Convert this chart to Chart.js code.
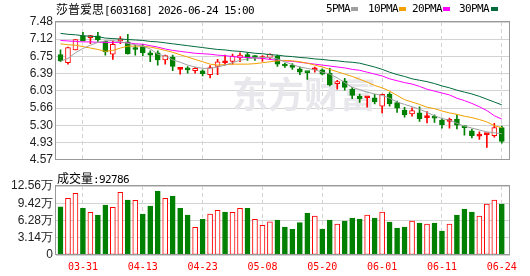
<!DOCTYPE html>
<html>
<head>
<meta charset="utf-8">
<script src="https://cdn.jsdelivr.net/npm/chart.js@4.4.1/dist/chart.umd.min.js"></script>
<style>
  html, body { margin: 0; padding: 0; background: #fff; }
  #wrap { position: relative; width: 530px; height: 276px; overflow: hidden; }
  #priceBox { position: absolute; left: 0; top: 0; width: 530px; height: 170px; }
  #volBox { position: absolute; left: 0; top: 170px; width: 530px; height: 106px; }
  .txt { position: absolute; font-family: "Noto Sans CJK SC", sans-serif; font-size: 12px; line-height: 13px; color: #000; white-space: nowrap; }
  .mono { font-family: "DejaVu Sans Mono", monospace; font-size: 11px; letter-spacing: -0.62px; }
  .sw { position: absolute; width: 7px; height: 4px; top: 7px; }
</style>
</head>
<body>
<div id="wrap">
  <div id="priceBox"><canvas id="price" width="530" height="170"></canvas></div>
  <div id="volBox"><canvas id="vol" width="530" height="106"></canvas></div>

  <div class="txt" style="left:56px;top:2px"><span>莎普爱思</span><span class="mono">[603168] 2026-06-24 15:00</span></div>

  <div class="txt mono" style="left:326px;top:2px">5PMA</div>
  <div class="sw" style="left:351px;background:#a0a0a0"></div>
  <div class="txt mono" style="left:368px;top:2px">10PMA</div>
  <div class="sw" style="left:399px;background:#f2a100"></div>
  <div class="txt mono" style="left:412px;top:2px">20PMA</div>
  <div class="sw" style="left:443px;background:#ff00ff"></div>
  <div class="txt mono" style="left:459px;top:2px">30PMA</div>
  <div class="sw" style="left:491px;background:#006b3c"></div>

  <div class="txt" style="left:57px;top:171px"><span>成交量</span><span class="mono">:92786</span></div>
</div>

<script>
/* =========================
   Data
========================= */
const opens  = [6.79, 6.62, 6.89, 7.19, 7.15, 7.19, 7.07, 6.80, 7.08, 7.06,
                6.94, 6.96, 6.83, 6.83, 6.68, 6.74, 6.48, 6.48, 6.45, 6.45,
                6.37, 6.54, 6.62, 6.65, 6.72, 6.79, 6.74, 6.71, 6.73, 6.76,
                6.57, 6.57, 6.49, 6.42, 6.47, 6.47, 6.40, 6.18, 6.23, 6.06,
                5.91, 5.88, 5.88, 5.70, 5.96, 5.78, 5.62, 5.54, 5.56, 5.46,
                5.46, 5.41, 5.38, 5.43, 5.27, 5.18, 5.07, 5.10, 5.08, 5.25];
const highs  = [6.89, 6.95, 7.11, 7.26, 7.20, 7.26, 7.08, 7.07, 7.17, 7.22,
                6.99, 7.01, 6.87, 6.87, 6.78, 6.78, 6.50, 6.54, 6.52, 6.47,
                6.56, 6.69, 6.78, 6.80, 6.83, 6.83, 6.77, 6.77, 6.81, 6.78,
                6.61, 6.60, 6.53, 6.42, 6.53, 6.49, 6.50, 6.25, 6.29, 6.10,
                5.96, 5.90, 5.95, 5.96, 5.99, 5.81, 5.68, 5.67, 5.69, 5.59,
                5.52, 5.45, 5.45, 5.52, 5.28, 5.22, 5.16, 5.12, 5.34, 5.28];
const lows   = [6.64, 6.59, 6.89, 7.08, 7.02, 7.07, 6.78, 6.69, 7.02, 6.80,
                6.78, 6.77, 6.64, 6.57, 6.59, 6.45, 6.38, 6.40, 6.40, 6.34,
                6.30, 6.37, 6.57, 6.59, 6.64, 6.67, 6.67, 6.65, 6.70, 6.54,
                6.52, 6.48, 6.37, 6.27, 6.42, 6.36, 6.13, 6.06, 6.04, 5.86,
                5.78, 5.68, 5.75, 5.56, 5.70, 5.57, 5.47, 5.49, 5.38, 5.35,
                5.36, 5.24, 5.24, 5.22, 5.09, 5.03, 5.00, 4.83, 5.05, 4.92];
const closes = [6.66, 6.94, 7.11, 7.08, 7.19, 7.10, 6.85, 7.01, 7.12, 6.81,
                6.90, 6.83, 6.78, 6.68, 6.77, 6.54, 6.49, 6.47, 6.50, 6.39,
                6.52, 6.64, 6.64, 6.76, 6.78, 6.72, 6.73, 6.73, 6.80, 6.59,
                6.55, 6.52, 6.42, 6.41, 6.48, 6.38, 6.15, 6.21, 6.10, 5.93,
                5.86, 5.89, 5.79, 5.95, 5.75, 5.66, 5.52, 5.61, 5.44, 5.47,
                5.45, 5.31, 5.39, 5.30, 5.25, 5.08, 5.08, 5.12, 5.25, 4.96];

const ma5  = [6.65, 6.71, 6.83, 6.92, 6.99, 7.05, 7.08, 7.09, 7.06, 7.03,
              7.00, 6.97, 6.91, 6.80, 6.76, 6.68, 6.63, 6.57, 6.53, 6.50,
              6.50, 6.53, 6.57, 6.62, 6.67, 6.70, 6.72, 6.73, 6.73, 6.70,
              6.64, 6.58, 6.53, 6.50, 6.47, 6.42, 6.38, 6.30, 6.20, 6.10,
              6.05, 6.00, 5.96, 5.93, 5.87, 5.79, 5.74, 5.69, 5.64, 5.57,
              5.50, 5.44, 5.41, 5.34, 5.28, 5.24, 5.20, 5.16, 5.14, 5.12];
const ma10 = [7.02, 7.00, 6.99, 6.96, 6.93, 6.90, 6.86, 6.88, 6.93, 6.97,
              6.97, 6.97, 6.95, 6.92, 6.88, 6.84, 6.79, 6.74, 6.69, 6.64,
              6.59, 6.57, 6.58, 6.59, 6.59, 6.59, 6.60, 6.62, 6.64, 6.66,
              6.67, 6.66, 6.64, 6.61, 6.57, 6.53, 6.48, 6.43, 6.38, 6.33,
              6.27, 6.21, 6.14, 6.09, 6.02, 5.93, 5.84, 5.79, 5.74, 5.68,
              5.65, 5.60, 5.56, 5.53, 5.49, 5.46, 5.42, 5.37, 5.29, 5.25];
const ma20 = [7.09, 7.08, 7.07, 7.06, 7.06, 7.05, 7.05, 7.05, 7.05, 7.04,
              7.02, 7.01, 6.98, 6.95, 6.91, 6.88, 6.86, 6.84, 6.82, 6.81,
              6.80, 6.78, 6.77, 6.75, 6.74, 6.73, 6.72, 6.71, 6.69, 6.67,
              6.66, 6.65, 6.63, 6.61, 6.59, 6.57, 6.55, 6.53, 6.51, 6.48,
              6.46, 6.42, 6.38, 6.34, 6.28, 6.24, 6.20, 6.17, 6.12, 6.06,
              6.02, 5.98, 5.94, 5.87, 5.82, 5.76, 5.69, 5.61, 5.50, 5.43];
const ma30 = [7.24, 7.22, 7.21, 7.19, 7.18, 7.17, 7.14, 7.13, 7.12, 7.11,
              7.10, 7.09, 7.07, 7.06, 7.04, 7.02, 7.00, 6.98, 6.96, 6.94,
              6.92, 6.90, 6.89, 6.87, 6.86, 6.84, 6.82, 6.81, 6.79, 6.78,
              6.76, 6.75, 6.73, 6.72, 6.70, 6.69, 6.67, 6.66, 6.64, 6.63,
              6.61, 6.57, 6.53, 6.48, 6.42, 6.37, 6.33, 6.28, 6.25, 6.22,
              6.18, 6.13, 6.09, 6.04, 6.00, 5.96, 5.91, 5.85, 5.79, 5.73];

const volumes = [87900, 103200, 112300, 85000, 77700, 72800, 91000, 86800, 114100, 100100,
                 99500, 74600, 89200, 116500, 103200, 107400, 85000, 72800, 50400, 65000,
                 74600, 81300, 78300, 77700, 85000, 85000, 65000, 54000, 60600, 63700,
                 51000, 46700, 58800, 76400, 71000, 47300, 63700, 56400, 61900, 67300,
                 65500, 72800, 67300, 78300, 60100, 49100, 51000, 61900, 58200, 56400,
                 58200, 43700, 56400, 72800, 83700, 78300, 71000, 92800, 100100, 92786];
// 1 = red (up vs previous close), 0 = green
const volUp = [0, 1, 1, 0, 1, 0, 0, 1, 1, 0,
               1, 0, 0, 0, 1, 0, 0, 0, 1, 0,
               1, 1, 0, 1, 1, 0, 1, 1, 1, 0,
               0, 0, 0, 0, 1, 0, 0, 1, 0, 0,
               0, 1, 0, 1, 0, 0, 0, 1, 0, 1,
               0, 0, 1, 0, 0, 0, 1, 1, 1, 0];

const tickIndex  = [3, 11, 19, 27, 35, 43, 51, 59];
const tickLabels = ["03-31", "04-13", "04-23", "05-08", "05-20", "06-01", "06-11", "06-24"];
const priceTicks = [4.57, 4.93, 5.30, 5.66, 6.03, 6.39, 6.75, 7.12, 7.48];
const volTicks   = [0, 31400, 62800, 94200, 125600];

/* =========================
   Helpers
========================= */
const RED = "#ff0000";
const GREEN = "#008000";
const GRID = "#d3d3d3";

const isUp = i => closes[i] >= opens[i];
const pts = arr => arr.map((v, i) => ({ x: i, y: v }));

const frame = {
  id: "frame",
  afterDraw(chart) {
    const { left, top, right, bottom } = chart.chartArea;
    const c = chart.ctx;
    c.save();
    c.strokeStyle = "#999";
    c.lineWidth = 1;
    c.strokeRect(Math.round(left) - 0.5, Math.round(top) - 0.5,
                 Math.round(right) - Math.round(left), Math.round(bottom) - Math.round(top));
    c.restore();
  }
};

const watermark = {
  id: "watermark",
  beforeDatasetsDraw(chart) {
    const c = chart.ctx;
    c.save();
    c.font = 'bold 36px "Noto Sans CJK SC"';
    c.fillStyle = "#e8e8ec";
    c.textBaseline = "alphabetic";
    c.fillText("东方财富", 232, 108);
    c.restore();
  }
};

const xBase = {
  type: "linear",
  min: -0.6,
  max: 60.095,
  offset: false,
  afterBuildTicks: s => { s.ticks = tickIndex.map(v => ({ value: v })); },
  grid: { color: GRID, drawTicks: false, offset: false },
  border: { display: false, dash: [4, 3] }
};

/* =========================
   Price chart
========================= */
new Chart(document.getElementById("price"), {
  type: "bar",
  data: {
    datasets: [
      { type: "line", data: pts(ma5),  borderColor: "#a0a0a0", borderWidth: 1, pointRadius: 0, tension: 0, order: 1 },
      { type: "line", data: pts(ma10), borderColor: "#f2a100", borderWidth: 1, pointRadius: 0, tension: 0, order: 1 },
      { type: "line", data: pts(ma20), borderColor: "#ff00ff", borderWidth: 1, pointRadius: 0, tension: 0, order: 1 },
      { type: "line", data: pts(ma30), borderColor: "#006b3c", borderWidth: 1, pointRadius: 0, tension: 0, order: 1 },
      {
        type: "bar",
        data: opens.map((o, i) => ({ x: i, y: [Math.min(o, closes[i]), Math.max(o, closes[i])] })),
        backgroundColor: opens.map((o, i) => isUp(i) ? (Math.abs(closes[i] - o) < 0.03 ? RED : "#fff") : GREEN),
        borderColor: opens.map((o, i) => isUp(i) ? RED : GREEN),
        borderWidth: 1,
        borderSkipped: false,
        barThickness: 5,
        minBarLength: 2,
        grouped: false,
        order: 5
      },
      {
        type: "bar",
        data: lows.map((l, i) => ({ x: i, y: [l, highs[i]] })),
        backgroundColor: lows.map((l, i) => isUp(i) ? RED : GREEN),
        borderWidth: 0,
        barThickness: 1,
        grouped: false,
        order: 6
      }
    ]
  },
  options: {
    responsive: false,
    animation: false,
    events: [],
    layout: { padding: { top: 22, right: 20, bottom: 5, left: 0 } },
    plugins: { legend: { display: false }, tooltip: { enabled: false } },
    scales: {
      x: { ...xBase, ticks: { display: false }, afterFit: s => { s.height = 0; } },
      y: {
        min: 4.57,
        max: 7.48,
        afterBuildTicks: s => { s.ticks = priceTicks.map(v => ({ value: v })); },
        afterFit: s => { s.width = 56; },
        ticks: {
          autoSkip: false,
          padding: 3,
          color: "#222",
          font: { family: "Liberation Sans", size: 12 },
          callback: v => Number(v).toFixed(2)
        },
        grid: { color: GRID, drawTicks: false },
        border: { display: false }
      }
    }
  },
  plugins: [watermark, frame]
});

/* =========================
   Volume chart
========================= */
new Chart(document.getElementById("vol"), {
  type: "bar",
  data: {
    datasets: [{
      data: volumes.map((v, i) => ({ x: i, y: v })),
      backgroundColor: volUp.map(u => u ? "#fff" : GREEN),
      borderColor: volUp.map(u => u ? RED : GREEN),
      borderWidth: 1,
      borderSkipped: false,
      barThickness: 5
    }]
  },
  options: {
    responsive: false,
    animation: false,
    events: [],
    layout: { padding: { top: 16, right: 20, bottom: 0, left: 0 } },
    plugins: { legend: { display: false }, tooltip: { enabled: false } },
    scales: {
      x: {
        ...xBase,
        ticks: {
          autoSkip: false,
          maxRotation: 0,
          padding: 6,
          color: RED,
          font: { family: "DejaVu Sans Mono", size: 10 },
          callback: v => tickLabels[tickIndex.indexOf(v)] || ""
        },
        afterFit: s => { s.height = 21; }
      },
      y: {
        min: 0,
        max: 125600,
        afterBuildTicks: s => { s.ticks = volTicks.map(v => ({ value: v })); },
        afterFit: s => { s.width = 56; },
        ticks: {
          autoSkip: false,
          padding: 3,
          color: "#222",
          font: { family: "Liberation Sans", size: 12 },
          callback: v => v === 0 ? "0" : (v / 10000).toFixed(2) + "万"
        },
        grid: { color: GRID, drawTicks: false },
        border: { display: false }
      }
    }
  },
  plugins: [frame]
});
</script>
</body>
</html>
